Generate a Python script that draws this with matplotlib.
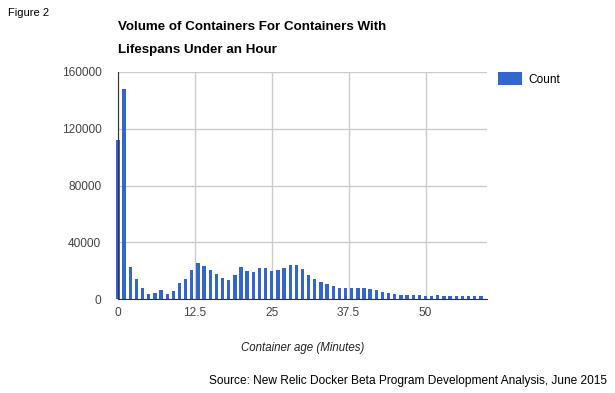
import matplotlib
matplotlib.use("Agg")
import matplotlib.pyplot as plt
import numpy as np

plt.rcParams["font.family"] = ["Liberation Sans", "DejaVu Sans"]

# container age in minutes, one bar per minute
minutes = list(range(60))
counts = [
    112000, 148000, 22500, 14000, 7700, 3500, 4200, 6300, 3500, 5600,
    11300, 14000, 20400, 25400, 23300, 20400, 17600, 14800, 13400, 16900,
    22500, 19700, 19000, 21800, 21800, 19700, 20400, 21800, 24000, 24000,
    21100, 16900, 14000, 12000, 10600, 9200, 7700, 7700, 7700, 7700,
    7700, 7000, 6300, 4900, 4200, 3500, 2800, 2800, 2800, 2800,
    2100, 2100, 2800, 2100, 2100, 2100, 2100, 2100, 2100, 2100,
]
x_ticks = [0, 12.5, 25, 37.5, 50]
x_tick_labels = ["0", "12.5", "25", "37.5", "50"]
y_ticks = [0, 40000, 80000, 120000, 160000]

blue = "#3366cc"
fig = plt.figure(figsize=(6.15, 3.93), dpi=100)
ax = fig.add_axes([118 / 615, 1 - 299 / 393, 369 / 615, 227 / 393])

ax.bar(minutes, counts, width=0.55, color=blue, zorder=3, clip_on=False, label="Count")
ax.set_xlim(0, 60)
ax.set_ylim(0, 160000)
ax.set_xticks(x_ticks, x_tick_labels)
ax.set_yticks(y_ticks, [str(v) for v in y_ticks])
ax.tick_params(length=0, labelsize=8.6, colors="#444444")
ax.tick_params(axis="x", pad=6)
ax.tick_params(axis="y", pad=12)
ax.grid(color="#cccccc", linewidth=1, zorder=0)
for side in ["top", "right"]:
    ax.spines[side].set_visible(False)
for side in ["left", "bottom"]:
    ax.spines[side].set_color("#333333")
    ax.spines[side].set_zorder(4)

ax.set_xlabel("Container age (Minutes)", fontsize=8.3, style="italic", color="#222222", labelpad=16)

leg = ax.legend(loc="upper left", bbox_to_anchor=(1.008, 1.035), frameon=False, fontsize=8.6,
                handlelength=2.0, handleheight=1.3, handletextpad=0.5, borderaxespad=0.3)

title_lines = ["Volume of Containers For Containers With", "Lifespans Under an Hour"]
for line, base in zip(title_lines, [30, 52.7]):
    fig.text(118 / 615, 1 - base / 393, line, fontsize=9.65, fontweight="bold",
             va="baseline", ha="left")
fig.text(8 / 615, 1 - 8 / 393, "Figure 2", fontsize=8, va="top", ha="left")
fig.text(607 / 615, 1 - 381 / 393, "Source: New Relic Docker Beta Program Development Analysis, June 2015",
         fontsize=8.6, va="center", ha="right")

fig.savefig("out.png", dpi=100)
